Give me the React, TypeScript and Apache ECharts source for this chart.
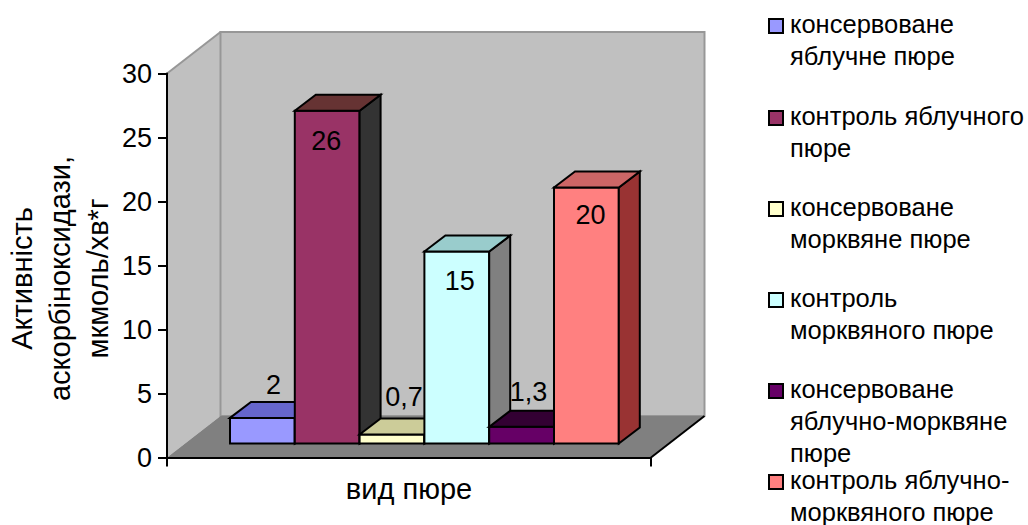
import React, { useEffect, useRef } from "react";
import * as echarts from "echarts";

const categoryLabels = ["вид пюре"];
const yAxisTitle = "Активність\nаскорбіноксидази,\nмкмоль/хв*г";
const purees = [
  "консервоване\nяблучне пюре",
  "контроль яблучного\nпюре",
  "консервоване\nморквяне пюре",
  "контроль\nморквяного пюре",
  "консервоване\nяблучно-морквяне\nпюре",
  "контроль яблучно-\nморквяного пюре",
];
const activity = [2, 26, 0.7, 15, 1.3, 20];
const frontColors = ["#9999ff", "#993366", "#ffffcc", "#ccffff", "#660066", "#ff8080"];
const topColors = ["#6666cc", "#663333", "#cccc99", "#99cccc", "#330033", "#cc6666"];
const sideColors = ["#4d4d80", "#333333", "#808066", "#808080", "#330033", "#993333"];
const legendRows = [25, 117, 208, 299, 390, 481];

// Value label placement relative to the top front edge of each bar, centre to centre.
const labelShiftX = [11, -1, 12, 3, 7, 4];
const labelShiftY = [-33, 30, -38, 29, -35, 27];

const FONT = '"Liberation Sans", Arial, sans-serif';

// Oblique projection of the plot box: how far the back wall is pushed away from the axes.
const WALL_DX = 53.5;
const WALL_DY = -41.5;
// The bars stand part of the way into the box, with their own shorter depth.
const BAR_SHIFT_Y = -14;
const BAR_DEPTH_X = 21;
const BAR_DEPTH_Y = -16;
const BAR_WIDTH_RATIO = 64.8 / 484;
const GROUP_START_OFFSET = 230 - 409;

const poly = (points: number[][], fill: string, stroke = "#000", lineWidth = 2) => ({
  type: "polygon",
  shape: { points },
  style: { fill, stroke, lineWidth, lineJoin: "miter" },
});

const renderBox = (_: unknown, api: any) => {
  const [cx, y0] = api.coord([0, 0]);
  const y1 = api.coord([0, 30])[1];
  const band = api.size([1, 0])[0];
  const x0 = cx - band / 2;
  const x1 = cx + band / 2;
  const wx0 = x0 + WALL_DX;
  const wx1 = x1 + WALL_DX;
  const wy0 = y0 + WALL_DY;
  const wy1 = y1 + WALL_DY;
  const edge = "#979797";
  return {
    type: "group",
    children: [
      poly([[x0, y0], [x0, y1], [wx0, wy1], [wx0, wy0]], "#c0c0c0", "none", 0),
      poly([[wx0, wy0], [wx0, wy1], [wx1, wy1], [wx1, wy0]], "#c0c0c0", edge, 2),
      poly([[x0, y0], [wx0, wy0], [wx1, wy0], [x1, y0]], "#808080", "none", 0),
      { type: "line", shape: { x1: x0, y1: y1, x2: wx0, y2: wy1 }, style: { stroke: edge, lineWidth: 2 } },
      { type: "line", shape: { x1: x1, y1: y0, x2: wx1, y2: wy0 }, style: { stroke: "#000", lineWidth: 2 } },
    ],
  };
};

const renderBar = (index: number) => (_: unknown, api: any) => {
  const value = api.value(1);
  const [cx, y0] = api.coord([0, 0]);
  const yTop = api.coord([0, value])[1] + BAR_SHIFT_Y;
  const yBase = y0 + BAR_SHIFT_Y;
  const width = api.size([1, 0])[0] * BAR_WIDTH_RATIO;
  const left = cx + GROUP_START_OFFSET + index * width;
  const right = left + width;
  const text = String(value).replace(".", ",");
  return {
    type: "group",
    children: [
      poly([[left, yBase], [left, yTop], [right, yTop], [right, yBase]], frontColors[index]),
      poly(
        [[right, yBase], [right, yTop], [right + BAR_DEPTH_X, yTop + BAR_DEPTH_Y], [right + BAR_DEPTH_X, yBase + BAR_DEPTH_Y]],
        sideColors[index],
      ),
      poly(
        [[left, yTop], [left + BAR_DEPTH_X, yTop + BAR_DEPTH_Y], [right + BAR_DEPTH_X, yTop + BAR_DEPTH_Y], [right, yTop]],
        topColors[index],
      ),
      {
        type: "text",
        z2: 10,
        style: {
          text,
          x: left + width / 2 + labelShiftX[index],
          y: yTop + labelShiftY[index],
          fill: "#000",
          font: `27px ${FONT}`,
          textAlign: "center",
          textVerticalAlign: "middle",
        },
      },
    ],
  };
};

const legendGraphics = purees.flatMap((name, i) => [
  {
    type: "rect",
    left: 768,
    top: legendRows[i] - 7,
    shape: { width: 14, height: 14 },
    style: { fill: frontColors[i], stroke: "#000", lineWidth: 2 },
  },
  {
    type: "text",
    left: 790,
    top: legendRows[i] - 17,
    style: { text: name, fill: "#000", font: `25.5px ${FONT}`, lineHeight: 32 },
  },
]);

export default function App() {
  const ref = useRef<HTMLDivElement>(null);

  useEffect(() => {
    const chart = echarts.init(ref.current!, undefined, { renderer: "svg" });
    chart.setOption({
      animation: false,
      backgroundColor: "#fff",
      textStyle: { fontFamily: FONT },
      grid: { left: 167, top: 73.5, width: 484, height: 384, outerBoundsMode: "none" },
      xAxis: {
        type: "category",
        data: categoryLabels,
        z: 5,
        axisLine: { show: true, lineStyle: { color: "#000", width: 2 } },
        axisTick: { show: true, length: 9, lineStyle: { color: "#000", width: 2 } },
        axisLabel: { color: "#000", fontSize: 29, margin: 17, fontFamily: FONT },
      },
      yAxis: {
        type: "value",
        min: 0,
        max: 30,
        interval: 5,
        z: 5,
        name: yAxisTitle,
        nameLocation: "middle",
        nameGap: 50,
        nameRotate: 90,
        nameTextStyle: { color: "#000", fontSize: 29, lineHeight: 38, fontFamily: FONT, padding: [0, 26, 0, 0] },
        splitLine: { show: false },
        axisLine: { show: true, lineStyle: { color: "#000", width: 2 } },
        axisTick: { show: true, length: 9, lineStyle: { color: "#000", width: 2 } },
        axisLabel: { color: "#000", fontSize: 27, margin: 15, fontFamily: FONT },
      },
      series: [
        {
          type: "custom",
          z: 1,
          silent: true,
          renderItem: renderBox,
          data: [[0, 0]],
          encode: { x: 0, y: 1 },
        },
        ...purees.map((name, i) => ({
          type: "custom",
          name,
          z: 6 + i,
          renderItem: renderBar(i),
          data: [[0, activity[i]]],
          encode: { x: 0, y: 1 },
        })),
      ],
      graphic: { elements: legendGraphics },
    });
    return () => chart.dispose();
  }, []);

  return <div ref={ref} style={{ position: "absolute", left: 0, top: 0, width: 1028, height: 525 }} />;
}
